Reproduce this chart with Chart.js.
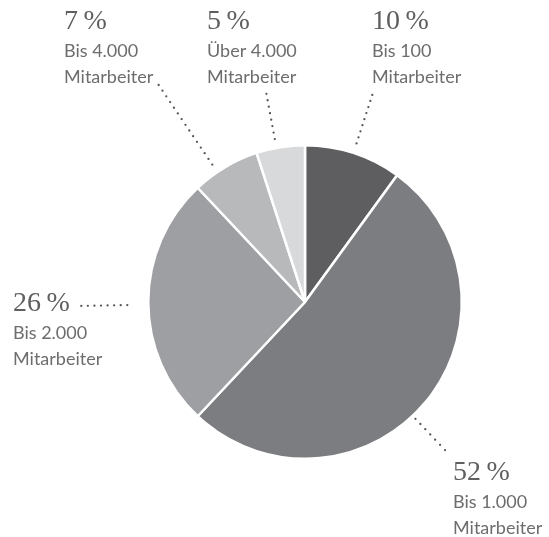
<!DOCTYPE html>
<html>
<head>
<meta charset="utf-8">
<script src="https://cdn.jsdelivr.net/npm/chart.js@4/dist/chart.umd.min.js"></script>
<style>
  html, body { margin: 0; padding: 0; background: #ffffff; }
  #wrap { width: 549px; height: 537px; position: relative; }
</style>
</head>
<body>
<div id="wrap"><canvas id="c" width="549" height="537"></canvas></div>
<script>
// ---- data ----
const categories = ['Bis 100', 'Bis 1.000', 'Bis 2.000', 'Bis 4.000', 'Über 4.000'];
const categorySuffix = ['Mitarbeiter', 'Mitarbeiter', 'Mitarbeiter', 'Mitarbeiter', 'Mitarbeiter'];
const shares = [10, 52, 26, 7, 5];

// ---- styles / layout ----
const sliceColors = ['#5e5e60', '#7c7d80', '#9e9fa2', '#b8b9bb', '#d8d9db'];
// label text anchors (left x, baseline of percent line)
const labelLayout = [
  { x: 372, y: 29 },
  { x: 453, y: 480 },
  { x: 13, y: 311 },
  { x: 64, y: 29 },
  { x: 207, y: 29 }
];
// leader lines: angle offset from slice middle (deg), start/end distance beyond pie edge (px)
const leaderLayout = [
  { off: 0, a: 10, b: 61 },
  { off: 7, a: 4, b: 47 },
  { off: -1, a: 21, b: 67 },
  { off: -3.4, a: 9, b: 105 },
  { off: -1.5, a: 9, b: 55 }
];

const labelPlugin = {
  id: 'labels',
  afterDraw(chart) {
    const ctx = chart.ctx;
    const meta = chart.getDatasetMeta(0);
    ctx.save();
    meta.data.forEach((arc, i) => {
      const p = arc.getProps(['x', 'y', 'startAngle', 'endAngle', 'outerRadius'], true);
      const mid = (p.startAngle + p.endAngle) / 2 + leaderLayout[i].off * Math.PI / 180;
      const r0 = p.outerRadius + leaderLayout[i].a;
      const r1 = p.outerRadius + leaderLayout[i].b;
      const x0 = p.x + r0 * Math.cos(mid), y0 = p.y + r0 * Math.sin(mid);
      const x1 = p.x + r1 * Math.cos(mid), y1 = p.y + r1 * Math.sin(mid);
      const len = Math.hypot(x1 - x0, y1 - y0);
      const n = Math.max(1, Math.round(len / 6.8));
      ctx.fillStyle = '#555557';
      for (let k = 0; k <= n; k++) {
        const t = k / n;
        ctx.beginPath();
        ctx.arc(x0 + (x1 - x0) * t, y0 + (y1 - y0) * t, 1.15, 0, Math.PI * 2);
        ctx.fill();
      }
      const L = labelLayout[i];
      ctx.textAlign = 'left';
      ctx.textBaseline = 'alphabetic';
      ctx.fillStyle = '#5f5f61';
      ctx.font = '28px "Liberation Serif", serif';
      ctx.fillText(shares[i] + '\u2009%', L.x, L.y);
      ctx.fillStyle = '#6d6d6f';
      ctx.font = '18px Lato, sans-serif';
      ctx.fillText(categories[i], L.x, L.y + 28);
      ctx.fillText(categorySuffix[i], L.x, L.y + 54);
    });
    ctx.restore();
  }
};

new Chart(document.getElementById('c'), {
  type: 'pie',
  data: {
    labels: categories,
    datasets: [{
      data: shares,
      backgroundColor: sliceColors,
      borderColor: '#ffffff',
      borderWidth: 2.5
    }]
  },
  options: {
    responsive: false,
    animation: false,
    devicePixelRatio: 1,
    layout: { padding: { left: 147, right: 86, top: 144, bottom: 77 } },
    plugins: { legend: { display: false }, tooltip: { enabled: false } }
  },
  plugins: [labelPlugin]
});
</script>
</body>
</html>
